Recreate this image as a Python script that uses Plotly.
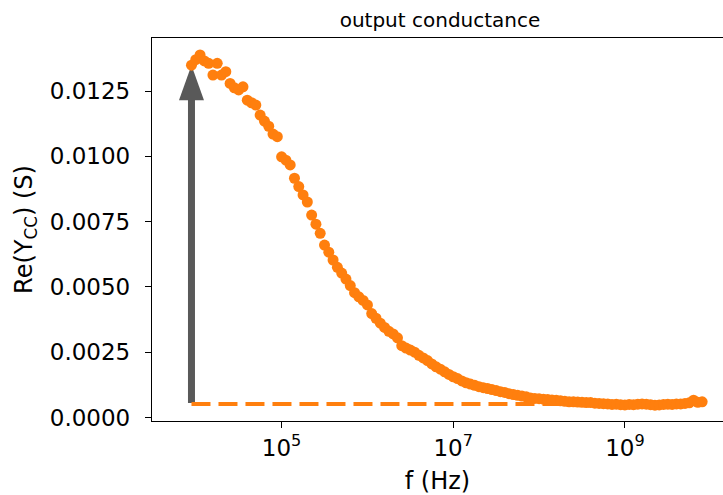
import plotly.graph_objects as go

# ---- data ----
freq_hz = [
    8.913e3, 1.000e4, 1.122e4, 1.259e4, 1.413e4, 1.585e4, 1.778e4, 1.995e4, 2.239e4, 2.512e4,
    2.818e4, 3.162e4, 3.548e4, 3.981e4, 4.467e4, 5.012e4, 5.623e4, 6.310e4, 7.079e4, 7.943e4,
    8.913e4, 1.000e5, 1.122e5, 1.259e5, 1.413e5, 1.585e5, 1.778e5, 1.995e5, 2.239e5, 2.512e5,
    2.818e5, 3.162e5, 3.548e5, 3.981e5, 4.467e5, 5.012e5, 5.623e5, 6.310e5, 7.079e5, 7.943e5,
    8.913e5, 1.000e6, 1.122e6, 1.259e6, 1.413e6, 1.585e6, 1.778e6, 1.995e6, 2.239e6, 2.512e6,
    2.818e6, 3.162e6, 3.548e6, 3.981e6, 4.467e6, 5.012e6, 5.623e6, 6.310e6, 7.079e6, 7.943e6,
    8.913e6, 1.000e7, 1.122e7, 1.259e7, 1.413e7, 1.585e7, 1.778e7, 1.995e7, 2.239e7, 2.512e7,
    2.818e7, 3.162e7, 3.548e7, 3.981e7, 4.467e7, 5.012e7, 5.623e7, 6.310e7, 7.079e7, 7.943e7,
    8.913e7, 1.000e8, 1.122e8, 1.259e8, 1.413e8, 1.585e8, 1.778e8, 1.995e8, 2.239e8, 2.512e8,
    2.818e8, 3.162e8, 3.548e8, 3.981e8, 4.467e8, 5.012e8, 5.623e8, 6.310e8, 7.079e8, 7.943e8,
    8.913e8, 1.000e9, 1.122e9, 1.259e9, 1.413e9, 1.585e9, 1.778e9, 1.995e9, 2.239e9, 2.512e9,
    2.818e9, 3.162e9, 3.548e9, 3.981e9, 4.467e9, 5.012e9, 5.623e9, 6.310e9, 7.079e9, 7.943e9,
]
re_ycc_s = [
    0.01349, 0.01370, 0.01388, 0.01365, 0.01356, 0.01311, 0.01356, 0.01311, 0.01324, 0.01279,
    0.01262, 0.01254, 0.01266, 0.01215, 0.01205, 0.01196, 0.01158, 0.01135, 0.01115, 0.01085,
    0.01075, 0.00998, 0.00985, 0.00967, 0.00916, 0.00884, 0.00852, 0.00825, 0.00775, 0.00740,
    0.00705, 0.00660, 0.00633, 0.00603, 0.00575, 0.00553, 0.00530, 0.00505, 0.00478, 0.00462,
    0.00448, 0.00431, 0.00398, 0.00380, 0.00361, 0.00345, 0.00330, 0.00320, 0.00305, 0.00275,
    0.00266, 0.00258, 0.00250, 0.00238, 0.00228, 0.00218, 0.00205, 0.00194, 0.00185, 0.00175,
    0.00165, 0.00156, 0.00149, 0.00140, 0.00133, 0.00128, 0.00123, 0.00118, 0.00114, 0.00111,
    0.00107, 0.00103, 0.00099, 0.00096, 0.00091, 0.00088, 0.00085, 0.00082, 0.00079, 0.00075,
    0.00073, 0.00072, 0.00070, 0.00069, 0.00067, 0.00066, 0.00064, 0.00062, 0.00060, 0.00060,
    0.00059, 0.00058, 0.00057, 0.00057, 0.00055, 0.00054, 0.00053, 0.00052, 0.00050, 0.00051,
    0.00049, 0.00048, 0.00050, 0.00049, 0.00051, 0.00052, 0.00051, 0.00049, 0.00047, 0.00048,
    0.00050, 0.00051, 0.00050, 0.00052, 0.00052, 0.00054, 0.00056, 0.00066, 0.00058, 0.00060,
]
g_high_freq = 0.00052          # dashed baseline level
x_tick_vals = [1e5, 1e7, 1e9]
x_tick_text = ["10<sup>5</sup>", "10<sup>7</sup>", "10<sup>9</sup>"]
y_tick_vals = [0.0, 0.0025, 0.005, 0.0075, 0.01, 0.0125]
y_tick_text = ["0.0000", "0.0025", "0.0050", "0.0075", "0.0100", "0.0125"]

# ---- styling ----
ORANGE = "#ff7f0e"
GREY = "#595959"
FONT = "DejaVu Sans"
W, H = 723, 495
M_L, M_R, M_T, M_B = 152, 0, 38, 74
x_range = [3.49, 10.143]
y_range = [-0.000134, 0.014529]

plot_w = W - M_L - M_R
plot_h = H - M_T - M_B
px_per_decade = plot_w / (x_range[1] - x_range[0])
px_per_unit = plot_h / (y_range[1] - y_range[0])

f0 = freq_hz[0]
g0 = re_ycc_s[0]
head_len = 35 / px_per_unit
head_half = 10 ** (12.5 / px_per_decade)

fig = go.Figure()

# arrow shaft
fig.add_trace(go.Scatter(
    x=[f0, f0], y=[g_high_freq + 1 / px_per_unit, g0 - head_len + 1 / px_per_unit],
    mode="lines", line=dict(color=GREY, width=7), hoverinfo="skip", showlegend=False))
# arrow head
fig.add_trace(go.Scatter(
    x=[f0 / head_half, f0 * head_half, f0, f0 / head_half],
    y=[g0 - head_len, g0 - head_len, g0, g0 - head_len],
    mode="lines", fill="toself", fillcolor=GREY, line=dict(color=GREY, width=0),
    hoverinfo="skip", showlegend=False))
# dashed baseline
fig.add_trace(go.Scatter(
    x=[f0, freq_hz[-1]], y=[g_high_freq, g_high_freq], mode="lines",
    line=dict(color=ORANGE, width=4, dash="19px,8px"), showlegend=False))
# measured points
fig.add_trace(go.Scatter(
    x=freq_hz, y=re_ycc_s, mode="markers",
    marker=dict(color=ORANGE, size=11, line=dict(width=0)), showlegend=False))

axis_common = dict(
    showline=True, linecolor="black", linewidth=1.3, ticks="outside", ticklen=6,
    tickwidth=1.3, tickcolor="black", showgrid=False, zeroline=False,
    tickfont=dict(family=FONT, size=23, color="black"),
)

fig.update_layout(
    width=W, height=H,
    margin=dict(l=M_L, r=M_R, t=M_T, b=M_B, pad=0),
    paper_bgcolor="white", plot_bgcolor="white",
    font=dict(family=FONT, color="black"),
    title=dict(text="output conductance", x=440 / W,
               xanchor="center", y=1 - 20 / H, yanchor="middle",
               xref="container", yref="container",
               font=dict(family=FONT, size=20, color="black")),
    xaxis=dict(type="log", range=x_range, tickvals=x_tick_vals, ticktext=x_tick_text,
               mirror=True,
               title=dict(text="f (Hz)", font=dict(family=FONT, size=24, color="black"), standoff=14),
               **axis_common),
    yaxis=dict(range=y_range, tickvals=y_tick_vals, ticktext=y_tick_text, mirror=False,
               ticklabelstandoff=10,
               title=dict(text="Re(Y<sub>CC</sub>) (S)", font=dict(family=FONT, size=24, color="black"),
                          standoff=10),
               **axis_common),
)

fig.write_html("out.html")
